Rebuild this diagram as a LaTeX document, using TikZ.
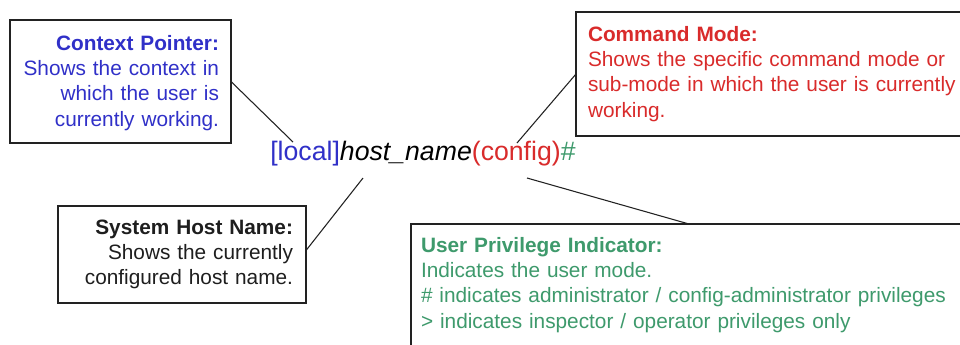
\documentclass[tikz,border=0pt]{standalone}
\usepackage{fontspec}
\setmainfont{Liberation Sans}
\usetikzlibrary{calc}
\definecolor{cpblue}{HTML}{3030C8}
\definecolor{cmred}{HTML}{D92B2B}
\definecolor{upgreen}{HTML}{3E9A6C}
\definecolor{frame}{HTML}{222222}
\definecolor{hostgray}{HTML}{1E1E1E}
\begin{document}
\begin{tikzpicture}[x=0.75pt,y=-0.75pt,
  box/.style={draw=frame, line width=1pt, fill=white, rectangle, inner ysep=0pt,
    outer sep=0pt, anchor=north west, font=\fontsize{15.6}{19}\selectfont},
  link/.style={draw=frame, line width=0.8pt}]
\fill[white] (0,0) rectangle (960,344);
\useasboundingbox (0,0) rectangle (960,344);

\node[box, text=cpblue, align=right, inner xsep=9pt, text width=147.75pt,
      text height=22.5pt, text depth=69.75pt] (ctx) at (10,20)
  {\textbf{Context Pointer:}\\Shows the context in\\which the user is\\currently working.};

\node[box, text=cmred, align=left, inner xsep=9pt, text width=285pt,
      text height=21.75pt, text depth=71.25pt] (cmd) at (576,12)
  {\textbf{Command Mode:}\\Shows the specific command mode or\\sub-mode in which the user is currently\\working.};

\node[box, text=hostgray, align=right, inner xsep=9.75pt, text width=166.5pt,
      text height=21pt, text depth=51.75pt] (host) at (58,206)
  {\textbf{System Host Name:}\\Shows the currently\\configured host name.};

\node[box, text=upgreen, align=left, inner xsep=7.5pt, text width=420pt,
      text height=21pt, text depth=112.5pt] (priv) at (411,224)
  {\textbf{User Privilege Indicator:}\\Indicates the user mode.\\\# indicates administrator / config-administrator privileges\\> indicates inspector / operator privileges only};

\node[anchor=base west, inner sep=0pt, font=\fontsize{20}{24}\selectfont] (prompt) at (270,160)
  {\textcolor{cpblue}{[local]}\textit{host\_name}\textcolor{cmred}{(config)}\textcolor{upgreen}{\#}};

\coordinate (ctxend) at (293,142);
\coordinate (cmdend) at (517,143);
\coordinate (hostend) at (363,178);
\coordinate (privend) at (527,178);

\draw[link] (ctx.east) -- (ctxend);
\draw[link] (cmd.west) -- (cmdend);
\draw[link] ($(host.east)+(0,-4)$) -- (hostend);
\draw[link] ($(priv.north west)+(278,0)$) -- (privend);
\end{tikzpicture}
\end{document}
